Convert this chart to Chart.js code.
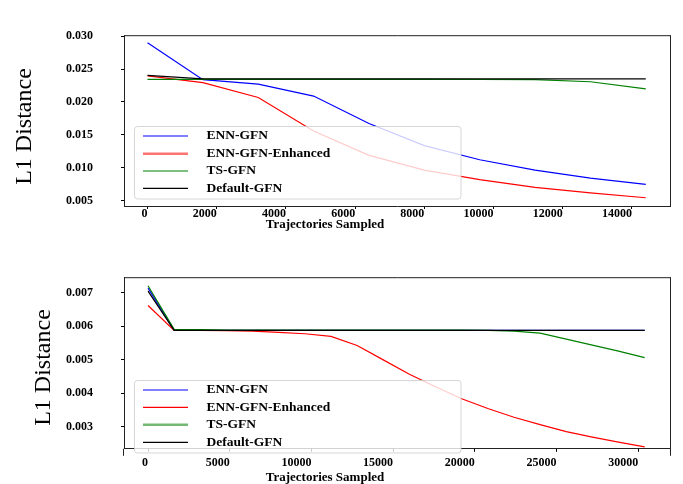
<!DOCTYPE html>
<html><head><meta charset="utf-8">
<script src="https://cdn.jsdelivr.net/npm/chart.js@4"></script>
<style>html,body{margin:0;padding:0;background:#fff;}.w{width:683px;height:242px;position:relative;}canvas{display:block;}</style>
</head><body>
<div class="w"><canvas id="c1" width="683" height="242"></canvas></div>
<div class="w"><canvas id="c2" width="683" height="242"></canvas></div>
<script>
// ---- data ----
const seriesNames = ['ENN-GFN', 'ENN-GFN-Enhanced', 'TS-GFN', 'Default-GFN'];
const seriesColors = ['#0000ff', '#ff0000', '#008000', '#000000'];
const xLabel = 'Trajectories Sampled';
const yLabel = 'L1 Distance';

// top panel
const xTop = [0, 1600, 3200, 4800, 6400, 8000, 9600, 11200, 12800, 14400];
const ennTop = [0.0290, 0.02338, 0.0227, 0.0209, 0.01672, 0.01338, 0.01122, 0.00964, 0.00842, 0.00747];
const ennEnhTop = [0.02396, 0.02293, 0.02068, 0.01558, 0.01189, 0.00964, 0.0082, 0.00703, 0.00618, 0.00545];
const tsTop = [0.02342, 0.02342, 0.02342, 0.02342, 0.02342, 0.02342, 0.02341, 0.02338, 0.02307, 0.02199];
const defTop = [0.02405, 0.0235, 0.0235, 0.0235, 0.0235, 0.0235, 0.0235, 0.0235, 0.0235, 0.0235];
const xTicksTop = [0, 2000, 4000, 6000, 8000, 10000, 12000, 14000];
const yTicksTop = [0.005, 0.010, 0.015, 0.020, 0.025, 0.030];

// bottom panel
const xBot = [0, 1600, 3200, 4800, 6400, 8000, 9600, 11200, 12800, 14400, 16000, 17600, 19200, 20800, 22400, 24000, 25600, 27200, 28800, 30400];
const ennBot = [0.00713, 0.00587, 0.00587, 0.00587, 0.00587, 0.00587, 0.00587, 0.00587, 0.00587, 0.00587, 0.00587, 0.00587, 0.00587, 0.00587, 0.00587, 0.00587, 0.00587, 0.00587, 0.00587, 0.00587];
const ennEnhBot = [0.00661, 0.00587, 0.00587, 0.00586, 0.00585, 0.00581, 0.00577, 0.00569, 0.00542, 0.00499, 0.00456, 0.00419, 0.00383, 0.00354, 0.00328, 0.00306, 0.00285, 0.00269, 0.00254, 0.0024];
const tsBot = [0.0072, 0.0059, 0.00589, 0.00588, 0.00588, 0.00588, 0.00588, 0.00588, 0.00588, 0.00588, 0.00588, 0.00588, 0.00588, 0.00587, 0.00585, 0.00579, 0.00561, 0.00543, 0.00525, 0.00506];
const defBot = [0.00704, 0.00587, 0.00587, 0.00587, 0.00587, 0.00587, 0.00587, 0.00587, 0.00587, 0.00587, 0.00587, 0.00587, 0.00587, 0.00587, 0.00587, 0.00587, 0.00587, 0.00587, 0.00587, 0.00587];
const xTicksBot = [0, 5000, 10000, 15000, 20000, 25000, 30000];
const yTicksBot = [0.003, 0.004, 0.005, 0.006, 0.007];

// ---- drawing ----
const SERIF = '"Liberation Serif", "DejaVu Serif", serif';

function panelPlugin(cfg) {
  return {
    id: 'panel',
    afterDatasetsDraw(chart) {
      const ctx = chart.ctx, a = chart.chartArea;
      ctx.save();
      // legend box (semi-transparent, above lines)
      const L = cfg.legend;
      const r = 3;
      ctx.beginPath();
      ctx.moveTo(L.x + r, L.y);
      ctx.lineTo(L.x + L.w - r, L.y);
      ctx.quadraticCurveTo(L.x + L.w, L.y, L.x + L.w, L.y + r);
      ctx.lineTo(L.x + L.w, L.y + L.h - r);
      ctx.quadraticCurveTo(L.x + L.w, L.y + L.h, L.x + L.w - r, L.y + L.h);
      ctx.lineTo(L.x + r, L.y + L.h);
      ctx.quadraticCurveTo(L.x, L.y + L.h, L.x, L.y + L.h - r);
      ctx.lineTo(L.x, L.y + r);
      ctx.quadraticCurveTo(L.x, L.y, L.x + r, L.y);
      ctx.closePath();
      ctx.fillStyle = 'rgba(255,255,255,0.8)';
      ctx.fill();
      ctx.strokeStyle = 'rgba(204,204,204,0.8)';
      ctx.lineWidth = 1;
      ctx.stroke();
      ctx.font = 'bold 13.5px ' + SERIF;
      ctx.textBaseline = 'middle';
      ctx.textAlign = 'left';
      chart.data.datasets.forEach((ds, i) => {
        const yy = L.rows[i];
        const thick = cfg.thickSample === i;
        ctx.strokeStyle = thick ? ds.thickColor : ds.borderColor;
        ctx.lineWidth = thick ? 2.6 : 1.2;
        ctx.beginPath();
        ctx.moveTo(143, yy);
        ctx.lineTo(188, yy);
        ctx.stroke();
        ctx.fillStyle = '#000';
        ctx.fillText(ds.label, 206.5, yy);
      });
      ctx.restore();
    },
    afterDraw(chart) {
      const ctx = chart.ctx, a = chart.chartArea;
      ctx.save();
      ctx.strokeStyle = '#222';
      ctx.lineWidth = 1;
      ctx.beginPath();
      ctx.moveTo(a.left, a.top + 0.5);
      ctx.lineTo(a.right + 0.5, a.top + 0.5);
      ctx.moveTo(a.right + 0.5, a.top);
      ctx.lineTo(a.right + 0.5, a.bottom + cfg.spineExt);
      if (cfg.spineExt > 0) {
        ctx.moveTo(a.left - 0.5, a.bottom);
        ctx.lineTo(a.left - 0.5, a.bottom + cfg.spineExt);
      }
      ctx.stroke();
      // axis titles
      ctx.fillStyle = '#000';
      ctx.font = 'bold 13px ' + SERIF;
      ctx.textAlign = 'center';
      ctx.textBaseline = 'alphabetic';
      ctx.fillText(xLabel, 325, cfg.xTitleY);
      ctx.translate(cfg.yTitleX, cfg.yTitleY);
      ctx.rotate(-Math.PI / 2);
      ctx.font = '24px ' + SERIF;
      ctx.fillText(yLabel, 0, 0);
      ctx.restore();
    }
  };
}

function makeChart(id, xs, seriesList, xTicks, yTicks, xr, yr, cfg) {
  const order = [3, 2, 1, 0];
  const thickColors = ['rgba(0,0,255,0.55)', 'rgba(255,0,0,0.55)', 'rgba(0,128,0,0.55)', 'rgba(0,0,0,0.55)'];
  const datasets = seriesList.map((vals, i) => ({
    label: seriesNames[i],
    data: xs.map((x, j) => ({ x: x, y: vals[j] })),
    borderColor: seriesColors[i],
    thickColor: thickColors[i],
    borderWidth: 1.2,
    pointRadius: 0,
    tension: 0,
    fill: false,
    order: order[i]
  }));
  return new Chart(document.getElementById(id), {
    type: 'line',
    data: { datasets },
    options: {
      responsive: false,
      animation: false,
      devicePixelRatio: 1,
      layout: { padding: { left: 0, right: 13, top: cfg.padTop, bottom: 0 } },
      plugins: { legend: { display: false }, tooltip: { enabled: false } },
      scales: {
        x: {
          type: 'linear',
          min: xr[0], max: xr[1],
          afterBuildTicks: s => { s.ticks = xTicks.map(v => ({ value: v })); },
          afterFit: s => { s.height = cfg.xHeight; },
          grid: { drawOnChartArea: false, drawTicks: true, tickLength: 3, color: '#000' },
          border: { display: true, color: '#222', width: 1 },
          ticks: {
            align: 'end', maxRotation: 0, autoSkip: false, padding: cfg.xPad,
            color: '#000', font: { family: SERIF, size: 12, weight: 'bold' },
            callback: v => String(v)
          }
        },
        y: {
          min: yr[0], max: yr[1],
          afterBuildTicks: s => { s.ticks = yTicks.map(v => ({ value: v })); },
          afterFit: s => { s.width = 124; },
          grid: { drawOnChartArea: false, drawTicks: true, tickLength: 3, color: '#000' },
          border: { display: true, color: '#222', width: 1 },
          ticks: {
            padding: 28, autoSkip: false,
            color: '#000', font: { family: SERIF, size: 12, weight: 'bold' },
            callback: v => Number(v).toFixed(3)
          }
        }
      }
    },
    plugins: [panelPlugin(cfg)]
  });
}

makeChart('c1', xTop, [ennTop, ennEnhTop, tsTop, defTop], xTicksTop, yTicksTop,
  [-680, 15100], [0.0042, 0.03014],
  { padTop: 14, xHeight: 36, xPad: -2, spineExt: 0, xTitleY: 228, yTitleX: 31, yTitleY: 126.5,
    thickSample: 1,
    legend: { x: 134.5, y: 126.5, w: 326.5, h: 72.5, rows: [136, 153.7, 171, 188.3] } });

makeChart('c2', xBot, [ennBot, ennEnhBot, tsBot, defBot], xTicksBot, yTicksBot,
  [-1470, 31950], [0.00234, 0.007455],
  { padTop: 23, xHeight: 31, xPad: 4, spineExt: 7, xTitleY: 239, yTitleX: 50, yTitleY: 125.5,
    thickSample: 2,
    legend: { x: 134.5, y: 138.5, w: 326.5, h: 72.5, rows: [148, 165.3, 182.7, 200.3] } });
</script>
</body></html>
